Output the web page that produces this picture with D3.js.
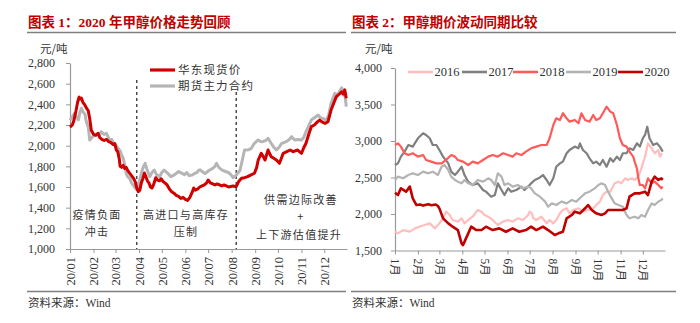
<!DOCTYPE html>
<html><head><meta charset="utf-8">
<script src="https://cdn.jsdelivr.net/npm/d3@7/dist/d3.min.js"></script>
<style>
html,body{margin:0;padding:0;background:#fff;}
svg{display:block;}
text{font-family:"Liberation Serif","Noto Sans CJK SC",serif;}
</style></head>
<body><svg id="c" width="700" height="323"></svg>
<script>
// ---------- DATA ----------
// Chart 1: [day of year, 元/吨]
const spotEastChina = [[0,2180],[3,2200],[5,2240],[8,2340],[10,2420],[12,2470],[13,2450],[15,2460],[17,2420],[19,2400],[22,2360],[24,2340],[26,2260],[28,2150],[31,2110],[34,2100],[37,2120],[39,2080],[42,2060],[45,2050],[48,2060],[51,2040],[54,2030],[57,2010],[59,2020],[61,1960],[63,1940],[65,1870],[66,1800],[68,1790],[70,1810],[72,1780],[74,1790],[76,1760],[78,1740],[80,1720],[82,1700],[84,1680],[86,1650],[88,1590],[90,1555],[92,1570],[94,1640],[96,1680],[98,1735],[100,1700],[102,1660],[104,1640],[106,1600],[108,1590],[110,1620],[113,1690],[115,1670],[118,1660],[120,1680],[123,1650],[125,1640],[128,1620],[131,1580],[134,1555],[137,1540],[140,1520],[143,1510],[146,1490],[149,1500],[152,1480],[155,1470],[158,1500],[161,1550],[163,1590],[165,1570],[168,1580],[171,1600],[174,1610],[177,1620],[180,1640],[182,1668],[185,1640],[188,1630],[191,1620],[194,1630],[197,1620],[200,1610],[203,1620],[206,1610],[209,1600],[212,1605],[215,1610],[219,1603],[222,1650],[226,1684],[230,1690],[234,1700],[238,1715],[243,1733],[246,1790],[248,1861],[252,1926],[255,1890],[257,1861],[261,1958],[265,1894],[268,1880],[272,1861],[276,1829],[281,1926],[285,1940],[290,1958],[294,1942],[300,1958],[305,1926],[308,1980],[311,2023],[315,2120],[318,2184],[322,2200],[326,2230],[329,2248],[332,2230],[336,2216],[340,2232],[344,2345],[348,2420],[351,2474],[355,2500],[358,2522],[360,2500],[362,2540],[364,2458]];
const futuresMain = [[0,2248],[3,2280],[6,2313],[9,2270],[11,2250],[13,2320],[15,2361],[17,2330],[20,2300],[21,2248],[24,2180],[26,2055],[29,2080],[32,2100],[35,2110],[37,2120],[39,2100],[41,2135],[45,2110],[48,2120],[52,2055],[55,2060],[57,2030],[61,2000],[64,1970],[66,1950],[68,1910],[70,1880],[72,1820],[74,1733],[76,1700],[79,1680],[81,1640],[84,1610],[87,1580],[90,1600],[92,1670],[95,1760],[97,1800],[99,1829],[101,1780],[103,1740],[105,1700],[108,1740],[111,1764],[114,1720],[118,1700],[121,1740],[124,1764],[127,1745],[129,1730],[133,1700],[138,1720],[143,1750],[147,1735],[151,1720],[154,1740],[157,1710],[161,1716],[164,1730],[167,1740],[170,1765],[172,1764],[175,1745],[178,1730],[183,1760],[188,1780],[191,1800],[193,1829],[196,1790],[200,1765],[205,1750],[209,1740],[212,1720],[215,1690],[219,1716],[224,1760],[228,1893],[230,1958],[235,1960],[239,1974],[243,2023],[248,2055],[251,2040],[254,2039],[258,2050],[261,2071],[265,2023],[268,1990],[272,1958],[276,1990],[279,2023],[285,2039],[289,2060],[292,2087],[296,2055],[301,2060],[305,2055],[308,2080],[311,2135],[315,2200],[318,2248],[322,2270],[327,2297],[330,2270],[333,2264],[338,2248],[341,2300],[344,2410],[349,2506],[352,2490],[355,2522],[358,2560],[360,2490],[362,2520],[364,2377]];
const dividerDays = [88, 219];
const leftYTicks = [1000,1200,1400,1600,1800,2000,2200,2400,2600,2800];
const leftMonthLabels = ["20/01","20/02","20/03","20/04","20/05","20/06","20/07","20/08","20/09","20/10","20/11","20/12"];

// Chart 2: [day of year, 元/吨]
const y2016 = [[0,1758],[4,1735],[11,1780],[20,1758],[27,1803],[33,1826],[40,1849],[47,1872],[54,1803],[60,1872],[65,1941],[69,2032],[74,1986],[78,1918],[85,1895],[90,1941],[94,1872],[99,1918],[105,1963],[112,2055],[117,2032],[121,1986],[126,1963],[132,1918],[139,1849],[146,1895],[153,1918],[159,1895],[166,1941],[173,1918],[180,1986],[182,2032],[185,2009],[187,1941],[191,1918],[198,1963],[205,1872],[209,1918],[214,1872],[218,1918],[223,2009],[227,2055],[232,2078],[236,2009],[241,2055],[248,2078],[254,2032],[261,2055],[268,2078],[272,2123],[277,2169],[281,2260],[286,2306],[291,2306],[297,2420],[302,2443],[306,2420],[311,2489],[315,2466],[320,2489],[324,2466],[329,2512],[333,2626],[338,2785],[342,2968],[347,2900],[351,2832],[356,2877],[358,2786],[361,2832]];
const y2017 = [[0,2671],[4,2694],[8,2786],[13,2854],[18,2945],[24,2923],[31,3037],[38,3106],[42,3083],[47,3037],[51,2945],[56,2945],[60,2877],[65,2786],[72,2694],[76,2580],[81,2534],[85,2580],[90,2648],[94,2534],[99,2443],[105,2397],[112,2420],[119,2329],[123,2306],[130,2237],[135,2260],[139,2420],[144,2329],[148,2260],[153,2352],[157,2306],[164,2329],[171,2375],[175,2329],[182,2397],[184,2420],[189,2466],[194,2489],[200,2534],[205,2466],[209,2397],[214,2489],[218,2648],[223,2694],[227,2717],[232,2832],[236,2877],[243,2923],[248,2900],[250,2968],[254,2877],[259,2832],[263,2763],[268,2694],[272,2717],[277,2671],[281,2740],[286,2648],[291,2763],[295,2717],[300,2786],[304,2740],[308,2832],[313,2832],[317,2900],[322,2877],[327,2968],[331,2923],[335,3037],[338,3083],[341,3196],[344,3037],[349,2945],[354,2968],[358,2923],[362,2854]];
const y2018 = [[0,2945],[4,2968],[8,2923],[13,2832],[18,2808],[24,2832],[31,2786],[38,2808],[42,2740],[49,2717],[56,2694],[63,2694],[69,2740],[76,2808],[81,2786],[85,2740],[92,2717],[99,2671],[105,2717],[112,2694],[119,2740],[126,2786],[132,2808],[139,2786],[146,2832],[153,2808],[159,2786],[164,2832],[171,2808],[177,2854],[184,2900],[191,2923],[198,2945],[205,2945],[209,3037],[214,3219],[218,3311],[223,3288],[227,3380],[232,3311],[236,3265],[243,3288],[248,3243],[252,3380],[257,3288],[263,3265],[268,3356],[272,3288],[277,3311],[281,3380],[286,3470],[291,3402],[295,3380],[300,3219],[304,3037],[308,2945],[313,2923],[317,2854],[322,2786],[324,2717],[327,2626],[329,2489],[331,2397],[335,2397],[338,2352],[342,2489],[347,2420],[351,2443],[356,2397],[360,2352],[362,2375]];
const y2019 = [[0,2466],[4,2512],[11,2489],[18,2534],[24,2557],[31,2534],[38,2580],[45,2557],[51,2580],[58,2534],[63,2648],[67,2671],[72,2603],[76,2512],[81,2466],[85,2443],[90,2420],[94,2466],[99,2420],[105,2397],[112,2466],[119,2443],[126,2489],[130,2466],[135,2397],[139,2557],[144,2512],[148,2397],[153,2420],[159,2375],[166,2397],[173,2352],[180,2375],[184,2352],[189,2283],[196,2237],[203,2169],[207,2100],[212,2146],[218,2123],[225,2169],[232,2146],[239,2192],[245,2169],[252,2237],[257,2283],[263,2306],[270,2352],[275,2397],[279,2420],[284,2397],[288,2306],[293,2214],[297,2146],[302,2123],[308,2100],[313,1986],[317,1941],[324,1963],[329,1941],[333,1986],[338,1963],[342,2055],[347,2146],[351,2123],[356,2169],[360,2192],[362,2214]];
const y2020 = [[0,2290],[4,2260],[8,2352],[15,2306],[20,2375],[24,2215],[29,2123],[34,2130],[38,2115],[45,2135],[49,2120],[55,2130],[58,2110],[60,2077],[65,1940],[72,1872],[78,1826],[85,1780],[90,1598],[92,1575],[96,1666],[103,1826],[110,1780],[117,1780],[123,1826],[132,1780],[141,1803],[150,1757],[159,1803],[168,1757],[177,1780],[184,1826],[191,1780],[200,1826],[207,1780],[216,1712],[221,1735],[227,1757],[232,1941],[239,1986],[243,2032],[250,2009],[257,2078],[261,2123],[266,2055],[272,2009],[279,1986],[284,2009],[288,2055],[295,2055],[302,2055],[308,2055],[313,2078],[317,2237],[324,2283],[331,2283],[338,2306],[342,2260],[347,2443],[351,2512],[356,2466],[360,2489],[362,2466]];
const seriesNames = ["2016","2017","2018","2019","2020"];
const seriesColors = ["#ffbdbd","#7f7f7f","#ff5a5a","#b3b3b3","#c00000"];
const rightYTicks = [1500,2000,2500,3000,3500,4000];
const rightMonthLabels = ["1月","2月","3月","4月","5月","6月","7月","8月","9月","10月","11月","12月"];

// ---------- DRAW ----------
const svg = d3.select("#c");
const CJK = '"Noto Sans CJK SC",sans-serif';
const day0 = new Date(2020,0,1), dayEnd = new Date(2020,11,31);
const toDate = d => d3.timeDay.offset(day0, d);
const monthStarts = d3.timeMonth.range(day0, dayEnd);

// Titles and rules
function header(x0, x1, title, src){
  svg.append("text").attr("x", x0+1).attr("y", 27).attr("fill","#c00000")
    .attr("font-weight","bold").attr("font-size",13.5).style("font-family",'"Liberation Serif","Noto Sans CJK SC",serif')
    .text(title);
  svg.append("line").attr("x1",x0).attr("x2",x1).attr("y1",32.5).attr("y2",32.5).attr("stroke","#7f7f7f").attr("stroke-width",1.3);
  svg.append("line").attr("x1",x0).attr("x2",x1).attr("y1",291.5).attr("y2",291.5).attr("stroke","#7f7f7f").attr("stroke-width",1.3);
  svg.append("text").attr("x", x0+1).attr("y", 307).attr("fill","#333").attr("font-size",11.5).text(src);
}
header(27, 346, "图表 1：2020 年甲醇价格走势回顾", "资料来源：Wind");
header(351, 676, "图表 2：甲醇期价波动同期比较", "资料来源：Wind");

// ---- Chart 1 ----
const x1 = d3.scaleTime().domain([day0, dayEnd]).range([70, 347]);
const yL = d3.scaleLinear().domain([1000, 2800]).range([249, 63]);

const gy1 = svg.append("g").attr("transform","translate(70,0)")
  .call(d3.axisLeft(yL).tickValues(leftYTicks).tickFormat(d3.format(",")).tickSize(4).tickSizeOuter(0));
const gx1 = svg.append("g").attr("transform","translate(0,249)")
  .call(d3.axisBottom(x1).tickValues(monthStarts).tickFormat("").tickSize(4).tickSizeOuter(0));
[gy1,gx1].forEach(g=>{ g.select(".domain").attr("stroke","#999").attr("stroke-width",1.2); g.selectAll(".tick line").attr("stroke","#999"); });
gy1.selectAll(".tick text").attr("font-size",12).attr("fill","#333").style("font-family",'"Liberation Serif",serif').attr("x",-15);
gx1.selectAll(".tick").append("text").text((d,i)=>leftMonthLabels[i])
  .attr("transform","translate(0,8) rotate(-90)").attr("text-anchor","end").attr("dy","0.35em")
  .attr("font-size",12.5).attr("fill","#333").style("font-family",'"Liberation Serif",serif');

svg.append("text").attr("x",40).attr("y",53).attr("font-size",11.5).attr("fill","#333").style("font-family",CJK).text("元/吨");

// dividers
const divTop = [80, 92];
dividerDays.forEach((d,i)=>{
  svg.append("line").attr("x1",x1(toDate(d))).attr("x2",x1(toDate(d))).attr("y1",divTop[i]).attr("y2",249)
    .attr("stroke","#222").attr("stroke-width",1.2).attr("stroke-dasharray","3,3");
});

const line1 = d3.line().x(d=>x1(toDate(d[0]))).y(d=>yL(d[1]));
svg.append("path").datum(futuresMain).attr("d",line1).attr("fill","none").attr("stroke","#b5b5b5").attr("stroke-width",3).attr("stroke-linejoin","round");
svg.append("path").datum(spotEastChina).attr("d",line1).attr("fill","none").attr("stroke","#d00000").attr("stroke-width",3).attr("stroke-linejoin","round");

// legend 1
const leg1 = [["华东现货价","#d00000",70],["期货主力合约","#b5b5b5",86]];
leg1.forEach(l=>{
  svg.append("line").attr("x1",150).attr("x2",175).attr("y1",l[2]).attr("y2",l[2]).attr("stroke",l[1]).attr("stroke-width",3.2);
  svg.append("text").attr("x",178).attr("y",l[2]).attr("dy","0.36em").attr("font-size",11.5).attr("letter-spacing",1.2)
    .attr("fill","#333").style("font-family",CJK).text(l[0]);
});

// annotations
const notes = [["疫情负面",97,215],["冲击",97,232],["高进口与高库存",186,215],["压制",186,232],
  ["供需边际改善",301,200],["+",301,217],["上下游估值提升",299,235]];
notes.forEach(n=>{
  svg.append("text").attr("x",n[1]).attr("y",n[2]).attr("dy","0.36em").attr("text-anchor","middle")
    .attr("font-size",11).attr("letter-spacing",1.3).attr("fill","#333").style("font-family",CJK).text(n[0]);
});

// ---- Chart 2 ----
const x2 = d3.scaleTime().domain([day0, dayEnd]).range([395, 665]);
const yR = d3.scaleLinear().domain([1500, 4000]).range([250.5, 68]);
const gy2 = svg.append("g").attr("transform","translate(395,0)")
  .call(d3.axisLeft(yR).tickValues(rightYTicks).tickFormat(d3.format(",")).tickSize(4).tickSizeOuter(0));
const gx2 = svg.append("g").attr("transform","translate(0,250.5)")
  .call(d3.axisBottom(x2).tickValues(monthStarts).tickFormat("").tickSize(4).tickSizeOuter(0));
[gy2,gx2].forEach(g=>{ g.select(".domain").attr("stroke","#999").attr("stroke-width",1.2); g.selectAll(".tick line").attr("stroke","#999"); });
gy2.selectAll(".tick text").attr("font-size",12).attr("fill","#333").style("font-family",'"Liberation Serif",serif').attr("x",-13);
gx2.selectAll(".tick").append("text").text((d,i)=>rightMonthLabels[i])
  .attr("transform","translate(0,8) rotate(90)").attr("text-anchor","start").attr("dy","0.35em")
  .attr("font-size",11.5).attr("fill","#333").style("font-family",'"Liberation Serif","Noto Sans CJK SC",serif');

svg.append("text").attr("x",365).attr("y",53).attr("font-size",11.5).attr("fill","#333").style("font-family",CJK).text("元/吨");

const line2 = d3.line().x(d=>x2(toDate(d[0]))).y(d=>yR(d[1]));
const allSeries = [y2016,y2017,y2018,y2019,y2020];
allSeries.forEach((s,i)=>{
  svg.append("path").datum(s).attr("d",line2).attr("fill","none").attr("stroke",seriesColors[i])
    .attr("stroke-width", i===4?2.6:2.2).attr("stroke-linejoin","round");
});

// legend 2
const legX = [408,462,513,566,618];
seriesNames.forEach((n,i)=>{
  svg.append("line").attr("x1",legX[i]).attr("x2",legX[i]+25).attr("y1",72).attr("y2",72).attr("stroke",seriesColors[i]).attr("stroke-width",2.6);
  svg.append("text").attr("x",legX[i]+26.5).attr("y",72).attr("dy","0.35em").attr("font-size",12.5).attr("fill","#333")
    .style("font-family",'"Liberation Serif",serif').text(n);
});
</script></body></html>
